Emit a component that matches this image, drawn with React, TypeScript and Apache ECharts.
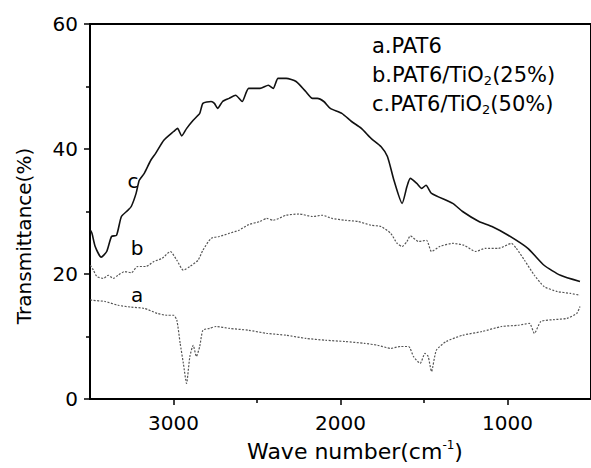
import React, { useEffect, useRef } from "react";
import * as echarts from "echarts";

// Wave number (cm^-1), transmittance (%)
const curveA: number[][] = [
  [3498, 15.9], [3488, 15.8], [3410, 15.6], [3332, 15.0], [3253, 14.7], [3175, 14.5],
  [3097, 13.7], [3039, 13.4], [2999, 13.4], [2980, 12.6], [2960, 8.9], [2941, 5.7],
  [2922, 2.5], [2902, 6.8], [2882, 8.6], [2863, 6.8], [2843, 8.4], [2824, 11.0],
  [2784, 11.3], [2745, 11.6], [2667, 11.3], [2550, 11.0], [2442, 10.5], [2325, 10.2],
  [2208, 9.7], [2090, 9.4], [1973, 9.2], [1856, 8.9], [1778, 8.6], [1699, 8.1],
  [1641, 8.4], [1592, 8.4], [1563, 6.8], [1523, 5.7], [1494, 7.3], [1475, 6.8],
  [1455, 4.4], [1426, 7.8], [1367, 9.2], [1269, 10.2], [1152, 10.8], [1035, 11.6],
  [937, 11.8], [869, 12.1], [839, 10.5], [800, 12.4], [722, 12.7], [644, 12.9],
  [585, 13.7], [566, 14.8],
];

const curveB: number[][] = [
  [3498, 21.4], [3479, 20.6], [3459, 19.6], [3420, 19.3], [3391, 19.8], [3361, 19.3],
  [3332, 19.8], [3293, 20.4], [3253, 20.2], [3215, 21.2], [3165, 21.2], [3117, 22.0],
  [3068, 22.5], [3019, 23.6], [2980, 22.2], [2941, 20.6], [2902, 21.2], [2853, 22.2],
  [2824, 23.8], [2775, 25.7], [2726, 26.0], [2667, 26.5], [2608, 27.0], [2550, 27.9],
  [2482, 28.4], [2442, 28.9], [2403, 28.6], [2325, 29.4], [2247, 29.6], [2168, 29.2],
  [2110, 29.4], [2051, 28.9], [1973, 28.6], [1895, 28.4], [1817, 27.8], [1758, 27.6],
  [1699, 26.5], [1661, 24.9], [1631, 24.4], [1602, 25.2], [1582, 26.1], [1533, 25.2],
  [1485, 25.4], [1455, 23.6], [1406, 24.4], [1328, 24.9], [1260, 24.6], [1191, 23.6],
  [1133, 24.1], [1054, 24.1], [976, 24.9], [947, 24.1], [898, 22.2], [839, 19.8],
  [781, 18.0], [702, 17.2], [624, 16.9], [566, 16.6],
];

const curveC: number[][] = [
  [3498, 27.0], [3488, 26.5], [3469, 24.4], [3433, 22.7], [3400, 23.6], [3371, 26.0],
  [3341, 26.2], [3312, 29.2], [3273, 30.2], [3253, 30.8], [3224, 32.9], [3205, 35.0],
  [3175, 36.1], [3136, 38.2], [3107, 39.3], [3058, 41.4], [2999, 42.8], [2976, 43.3],
  [2951, 42.1], [2921, 43.3], [2882, 44.6], [2843, 45.7], [2824, 47.3], [2775, 47.6],
  [2755, 47.3], [2736, 46.5], [2706, 47.6], [2667, 48.1], [2628, 48.6], [2589, 47.6],
  [2550, 49.7], [2482, 49.7], [2432, 50.2], [2403, 49.7], [2374, 51.3], [2325, 51.3],
  [2266, 50.8], [2208, 49.2], [2168, 48.1], [2139, 48.1], [2100, 47.6], [2061, 46.5],
  [1992, 45.7], [1934, 44.4], [1875, 43.3], [1817, 41.7], [1758, 40.4], [1719, 38.8],
  [1680, 35.0], [1631, 31.3], [1602, 34.0], [1582, 35.3], [1543, 34.5], [1514, 33.7],
  [1488, 34.2], [1455, 32.9], [1328, 31.3], [1269, 30.0], [1171, 28.4], [1093, 27.6],
  [996, 26.2], [878, 24.1], [781, 21.4], [683, 19.8], [566, 18.8],
];

const xMajorTicks = [1000, 2000, 3000];
const xMinorTicks = [1500, 2500];
const legendLines = ["a.PAT6", "b.PAT6/TiO{sub|2}(25%)", "c.PAT6/TiO{sub|2}(50%)"];
const curveLetters = ["a", "b", "c"];
const xTitle = "Wave number(cm{sup|-1})";
const yTitle = "Transmittance(%)";

export default function App() {
  const ref = useRef<HTMLDivElement>(null);

  useEffect(() => {
    const chart = echarts.init(ref.current!, null, { renderer: "svg" });
    const font = "DejaVu Sans";
    const legendY = [46, 75, 104];
    const letterPos = [
      [137, 295],
      [137, 248],
      [133, 181],
    ];

    const option: any = {
      animation: false,
      backgroundColor: "#ffffff",
      grid: {
        left: 90,
        top: 24,
        right: -11,
        bottom: 69,
        show: true,
        borderColor: "#000",
        borderWidth: 2,
        backgroundColor: "transparent",
      },
      xAxis: [
        {
          type: "value",
          min: 500,
          max: 3500,
          interval: 500,
          inverse: true,
          position: "bottom",
          axisLine: { show: true, lineStyle: { color: "#000", width: 2 } },
          axisTick: { show: true, inside: false, length: 6, customValues: xMajorTicks, lineStyle: { color: "#000", width: 1.5 } },
          axisLabel: {
            show: true,
            customValues: xMajorTicks,
            margin: 14,
            fontFamily: font,
            fontSize: 20,
            color: "#000",
            formatter: (v: number) => String(v),
          },
          splitLine: { show: false },
        },
        {
          type: "value",
          min: 500,
          max: 3500,
          interval: 500,
          inverse: true,
          position: "bottom",
          offset: 0,
          axisLine: { show: true, lineStyle: { color: "rgba(0,0,0,0)", width: 1 } },
          axisTick: { show: true, inside: false, length: 4, customValues: xMinorTicks, lineStyle: { color: "#000", width: 1.5 } },
          axisLabel: { show: false },
          splitLine: { show: false },
        },
      ],
      yAxis: {
        type: "value",
        min: 0,
        max: 60,
        interval: 20,
        axisLine: { show: true, lineStyle: { color: "#000", width: 2 } },
        axisTick: { show: true, inside: false, length: 6, lineStyle: { color: "#000", width: 1.5 } },
        minorTick: { show: true, splitNumber: 2, length: 4, lineStyle: { color: "#000", width: 1.5 } },
        axisLabel: { margin: 12, fontFamily: font, fontSize: 20, color: "#000" },
        splitLine: { show: false },
      },
      series: [
        {
          name: "a",
          type: "line",
          data: curveA,
          symbol: "none",
          smooth: 0.2,
          lineStyle: { color: "#555", width: 1.2, type: [2, 1.5] },
        },
        {
          name: "b",
          type: "line",
          data: curveB,
          symbol: "none",
          smooth: 0.2,
          lineStyle: { color: "#555", width: 1.2, type: [2, 1.5] },
        },
        {
          name: "c",
          type: "line",
          data: curveC,
          symbol: "none",
          smooth: 0.2,
          lineStyle: { color: "#111", width: 1.6 },
        },
      ],
      graphic: [
        ...legendLines.map((t, i) => ({
          type: "text",
          left: 372,
          top: legendY[i] - 12,
          style: {
            text: t,
            fontFamily: font,
            fontSize: 21,
            lineHeight: 24,
            fill: "#000",
            rich: {
              sub: { fontFamily: font, fontSize: 13, lineHeight: 10, verticalAlign: "bottom", fill: "#000" },
            },
          },
        })),
        ...curveLetters.map((t, i) => ({
          type: "text",
          x: letterPos[i][0],
          y: letterPos[i][1],
          style: {
            text: t,
            fontFamily: font,
            fontSize: 20,
            fill: "#000",
            align: "center",
            verticalAlign: "middle",
          },
        })),
        {
          type: "text",
          x: 355,
          y: 451,
          style: {
            text: xTitle,
            fontFamily: font,
            fontSize: 22,
            lineHeight: 24,
            fill: "#000",
            align: "center",
            verticalAlign: "middle",
            rich: {
              sup: { fontFamily: font, fontSize: 12, lineHeight: 12, verticalAlign: "top", fill: "#000" },
            },
          },
        },
        {
          type: "text",
          x: 24,
          y: 236,
          rotation: Math.PI / 2,
          style: {
            text: yTitle,
            fontFamily: font,
            fontSize: 20,
            fill: "#000",
            align: "center",
            verticalAlign: "middle",
          },
        },
      ],
    };

    chart.setOption(option);
    return () => chart.dispose();
  }, []);

  return (
    <div
      ref={ref}
      style={{ position: "absolute", left: 0, top: 0, width: 591, height: 468 }}
    />
  );
}
